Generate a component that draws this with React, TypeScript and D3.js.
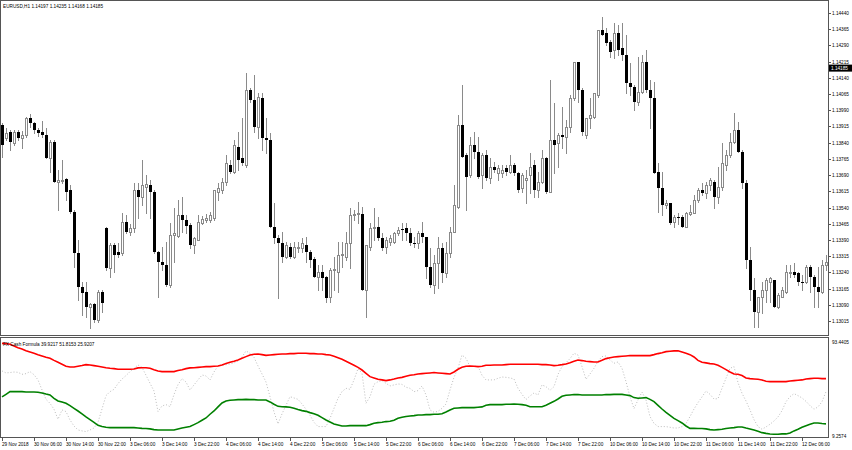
import React from 'react';
import * as d3 from 'd3';

const W = 852;
const H = 450;

// ---- candle data (price in 1e-5 units), hourly bars from 29 Nov 22:00 ----
const OPEN = [
  113922,113862,113890,113838,113890,113862,113876,113954,113931,113899,
  113890,113876,113769,113843,113658,113663,113672,113621,113519,113330,
  113172,113150,113079,113094,113019,113150,113445,113260,113367,113334,
  113330,113473,113427,113445,113621,113589,113635,113644,113611,113334,
  113288,113274,113181,113413,113408,113505,113482,113459,113367,113390,
  113468,113482,113482,113491,113611,113621,113658,113737,113704,113820,
  113769,113737,114084,114037,113912,114047,113862,113853,113450,113399,
  113376,113311,113357,113311,113353,113353,113367,113334,113302,113218,
  113241,113218,113126,113251,113241,113320,113311,113376,113505,113510,
  113510,113159,113357,113445,113450,113399,113357,113380,113380,113422,
  113440,113445,113422,113376,113376,113422,113404,113264,113181,113283,
  113353,113237,113330,113427,113542,113922,113783,113690,113829,113797,
  113690,113783,113677,113727,113700,113700,113723,113704,113737,113700,
  113630,113668,113690,113737,113621,113658,113769,113611,113853,113838,
  113876,113866,113912,114047,114213,114084,113876,113954,113958,114061,
  114361,114347,114306,114269,114347,114278,114246,114116,114098,114028,
  114075,114213,114084,114047,113704,113630,113552,113561,113473,113496,
  113496,113450,113510,113515,113575,113621,113607,113644,113658,113589,
  113635,113737,113783,113843,113899,113797,113653,113297,113159,113057,
  113126,113159,113196,113205,113079,113126,113150,113237,113241,113237,
  113196,113196,113264,113218,113172,113150,113274,
];
const HIGH = [
  113931,113908,113899,113899,113899,113894,113958,113972,113936,113908,
  113940,113908,113853,113853,113714,113760,113677,113644,113529,113390,
  113196,113196,113098,113098,113159,113159,113450,113376,113376,113376,
  113515,113505,113464,113653,113653,113760,113690,113667,113621,113339,
  113357,113380,113468,113538,113575,113589,113505,113468,113404,113505,
  113501,113510,113519,113621,113653,113677,113783,113760,113853,113890,
  113954,114162,114093,114153,114070,114070,113954,113885,113561,113413,
  113427,113380,113376,113380,113380,113399,113404,113343,113311,113274,
  113274,113223,113260,113311,113380,113380,113427,113538,113529,113566,
  113542,113367,113468,113538,113496,113422,113404,113413,113427,113450,
  113468,113468,113445,113404,113431,113473,113404,113353,113320,113404,
  113376,113380,113450,113644,113968,114107,113792,113866,113890,113866,
  113792,113806,113769,113751,113737,113737,113737,113783,113746,113704,
  113700,113714,113792,113760,113704,113806,113774,114130,114024,113885,
  114005,113945,114060,114213,114213,114093,113954,114047,114070,114361,
  114421,114371,114315,114394,114384,114394,114338,114209,114107,114236,
  114246,114269,114130,114121,113746,113704,113575,113561,113505,113515,
  113505,113519,113552,113598,113630,113653,113658,113677,113668,113727,
  113838,113806,113885,113977,113936,113806,113668,113357,113214,113126,
  113196,113214,113218,113205,113145,113172,113274,113274,113283,113241,
  113228,113274,113274,113228,113264,113297,113320,
];
const LOW = [
  113773,113853,113806,113829,113853,113815,113866,113912,113885,113871,
  113866,113769,113704,113658,113529,113653,113575,113515,113264,113113,
  113043,113033,112983,113010,113010,113057,113251,113218,113241,113311,
  113320,113422,113413,113427,113491,113552,113515,113491,113330,113126,
  113251,113177,113172,113288,113404,113427,113422,113353,113330,113390,
  113464,113473,113473,113482,113575,113607,113644,113700,113700,113714,
  113737,113727,114028,113890,113862,113806,113792,113450,113376,113122,
  113288,113306,113306,113306,113334,113334,113288,113264,113218,113159,
  113159,113103,113103,113159,113150,113264,113297,113260,113482,113468,
  113159,113033,113343,113390,113390,113343,113330,113367,113376,113413,
  113390,113390,113367,113357,113353,113380,113214,113172,113145,113168,
  113196,113218,113311,113427,113538,113773,113529,113681,113769,113677,
  113630,113668,113653,113704,113668,113681,113690,113700,113690,113611,
  113611,113561,113607,113589,113589,113653,113607,113611,113700,113727,
  113815,113792,113890,114037,114028,113876,113862,113908,113954,114051,
  114338,114292,114236,114232,114246,114222,114070,114061,113991,114014,
  114070,114075,113908,113700,113519,113505,113538,113464,113450,113464,
  113450,113450,113505,113515,113566,113598,113584,113621,113538,113561,
  113621,113714,113773,113838,113797,113630,113260,113113,112987,112987,
  113052,113103,113103,113079,113075,113126,113145,113218,113218,113181,
  113159,113191,113150,113079,113079,113145,113251,
];
const CLOSE = [
  113829,113885,113843,113890,113862,113876,113954,113931,113899,113885,
  113876,113769,113843,113658,113668,113668,113611,113519,113330,113172,
  113145,113079,113094,113019,113150,113098,113260,113367,113320,113320,
  113473,113427,113445,113621,113589,113644,113649,113611,113334,113288,
  113274,113181,113413,113422,113505,113482,113454,113367,113399,113473,
  113487,113491,113505,113621,113630,113658,113746,113704,113829,113760,
  113746,114084,114037,113912,114051,113862,113853,113450,113399,113376,
  113311,113367,113311,113357,113357,113376,113334,113297,113218,113241,
  113214,113122,113251,113255,113320,113325,113376,113505,113510,113515,
  113159,113367,113445,113450,113399,113353,113390,113399,113422,113436,
  113436,113422,113376,113371,113422,113404,113264,113181,113283,113353,
  113237,113330,113427,113552,113922,113773,113681,113829,113797,113681,
  113783,113677,113727,113714,113723,113714,113704,113737,113700,113621,
  113690,113677,113727,113621,113658,113769,113611,113853,113829,113876,
  113866,113912,114047,114213,114084,113890,113954,113968,114070,114361,
  114338,114301,114259,114347,114269,114246,114116,114098,114028,114075,
  114213,114084,114047,113700,113630,113552,113561,113468,113496,113491,
  113450,113515,113519,113575,113621,113607,113644,113668,113589,113635,
  113746,113783,113843,113899,113797,113653,113297,113159,113057,113126,
  113159,113205,113214,113079,113135,113159,113241,113241,113228,113196,
  113191,113264,113218,113172,113150,113274,113288,
];

// ---- FX Cash Formula indicator ----
const RED_LINE = [
  89.7,89.5,88.9,87.5,86.0,84.9,83.4,82.3,81.2,80.0,
  78.9,77.7,76.9,75.1,73.4,71.7,70.0,69.4,69.4,70.0,
  70.6,71.4,71.1,70.6,70.0,69.4,68.8,68.3,68.0,67.4,
  67.4,67.4,67.4,67.7,68.6,68.8,68.8,68.3,67.1,66.0,
  65.4,65.4,65.4,65.4,66.3,67.1,68.0,68.6,68.8,69.1,
  69.4,69.7,69.7,70.0,70.3,71.1,72.3,73.4,74.3,75.4,
  76.9,78.3,79.7,80.3,80.6,80.0,79.4,79.7,80.0,80.3,
  80.6,80.6,80.9,80.9,81.2,81.2,81.2,80.9,80.9,80.6,
  80.6,80.0,79.7,78.6,77.4,76.0,74.3,72.6,70.9,69.1,
  66.8,64.0,61.1,60.0,58.8,58.3,57.7,58.3,59.1,60.0,
  60.5,61.4,62.3,62.8,63.4,63.7,64.0,64.3,64.6,64.3,
  64.0,63.7,63.4,65.1,67.4,69.1,70.0,70.3,70.0,69.7,
  70.0,70.9,70.9,71.1,71.1,71.1,71.4,71.7,71.7,71.7,
  71.7,71.7,71.7,71.7,71.7,71.4,71.4,71.1,70.6,70.9,
  71.4,72.0,73.1,74.3,75.4,74.9,74.3,74.0,73.7,73.7,
  75.1,76.6,77.4,78.0,78.3,78.6,78.9,79.2,79.2,79.2,
  79.2,79.2,79.2,80.0,80.9,81.7,82.6,82.9,83.2,83.4,
  82.3,81.2,80.0,78.0,75.1,73.4,72.9,72.3,72.0,70.9,
  69.1,67.1,65.1,63.4,63.1,62.0,60.0,59.4,59.1,58.8,
  58.3,57.1,56.8,56.8,56.8,56.8,56.8,57.4,57.7,58.0,
  58.3,59.1,59.4,59.7,59.7,59.4,59.4,
];
const GREEN_LINE = [
  43.7,45.9,48.2,48.2,48.2,48.2,47.9,47.9,47.9,47.7,
  47.1,46.2,45.4,42.5,40.2,39.4,38.2,36.2,33.9,31.6,
  29.1,26.5,24.2,21.9,19.3,18.2,17.6,17.3,17.3,17.3,
  17.3,17.3,17.3,17.3,17.0,16.7,16.5,16.2,15.6,15.3,
  15.3,15.3,15.3,15.3,16.2,17.0,17.6,18.2,19.9,21.6,
  23.6,25.6,28.8,31.6,35.1,38.5,40.2,40.8,41.1,41.4,
  41.4,41.6,41.4,41.4,41.1,41.1,41.1,39.4,37.4,35.6,
  35.3,35.1,34.8,33.9,32.8,31.9,31.3,30.2,29.3,27.9,
  25.9,23.9,22.2,20.5,19.6,18.7,18.7,19.0,19.0,19.0,
  19.0,19.0,19.9,21.0,21.6,21.9,22.5,22.8,23.6,25.3,
  26.2,26.8,27.3,27.6,28.2,28.2,28.5,28.5,28.8,28.8,
  29.3,30.8,32.5,33.9,34.2,34.5,34.5,34.5,34.5,34.8,
  35.1,36.5,37.1,37.1,37.1,37.1,37.4,37.4,37.6,37.4,
  37.1,36.5,35.3,35.3,35.3,35.3,36.5,38.2,39.9,41.9,
  44.2,45.1,45.4,45.7,45.7,45.4,45.4,45.4,45.4,45.4,
  45.4,45.7,45.7,45.9,45.9,45.9,45.4,44.8,43.1,42.5,
  42.8,43.1,41.6,39.6,36.5,33.3,30.5,27.9,25.3,23.3,
  21.3,18.7,16.7,16.7,16.5,16.5,16.2,15.6,15.3,15.6,
  15.9,16.5,17.0,17.3,17.9,17.9,17.0,16.2,15.3,14.2,
  13.0,12.4,11.9,11.6,11.6,11.9,11.9,12.7,14.5,15.9,
  17.6,19.0,20.2,21.3,21.3,20.8,20.5,
];
const DOTTED_LINE = [
  66.0,64.3,64.6,65.1,64.8,63.1,63.7,65.4,62.8,58.3,
  49.7,41.6,38.2,33.1,24.5,32.5,31.1,23.9,18.7,15.3,
  14.5,13.9,15.3,17.0,21.9,33.3,44.8,48.2,50.2,55.1,
  59.1,62.0,65.4,68.3,71.1,69.1,62.3,55.4,48.8,31.1,
  35.9,37.1,35.3,45.7,54.2,59.4,56.5,49.7,54.0,58.3,
  62.5,61.7,58.3,65.1,70.3,70.9,71.4,72.0,72.9,74.6,
  78.0,83.2,81.2,77.7,70.3,63.4,56.5,43.9,30.8,20.5,
  29.1,36.5,43.9,42.8,41.6,37.6,33.1,27.9,21.9,18.2,
  18.2,18.2,25.3,33.9,42.5,48.2,51.1,50.2,58.3,68.0,
  64.0,38.2,43.9,54.5,56.8,57.7,55.4,53.1,54.0,54.8,
  54.5,52.0,51.1,48.2,49.1,53.1,45.4,32.5,30.5,31.3,
  33.9,37.6,49.7,60.5,68.3,79.7,76.9,69.7,70.0,70.0,
  62.3,58.3,58.3,58.3,59.7,60.8,60.5,60.0,59.1,51.1,
  45.9,41.4,44.5,47.1,45.4,54.0,52.5,49.4,52.5,63.1,
  69.7,73.1,76.6,81.2,79.7,69.7,58.8,63.4,68.3,74.3,
  78.3,78.9,75.4,72.6,73.7,68.3,56.8,43.9,33.6,41.1,
  47.9,41.1,26.8,21.0,18.2,18.2,18.2,17.6,17.0,17.0,
  18.2,20.8,26.8,33.3,38.8,43.7,48.8,45.9,41.9,42.2,
  51.1,59.7,68.3,69.7,56.0,46.8,40.2,32.5,24.2,18.2,
  15.9,17.9,20.2,23.0,26.5,31.9,39.6,43.9,46.5,44.8,
  42.8,39.9,36.2,33.1,35.1,39.6,48.2,
];

const PRICE_TICKS = [
  '1.14440','1.14365','1.14290','1.14215','1.14140','1.14065','1.13990',
  '1.13915','1.13840','1.13765','1.13690','1.13615','1.13540','1.13465',
  '1.13390','1.13315','1.13240','1.13165','1.13090','1.13015',
];
const TIME_LABELS = [
  '29 Nov 2018','30 Nov 06:00','30 Nov 14:00','30 Nov 22:00','3 Dec 06:00',
  '3 Dec 14:00','3 Dec 22:00','4 Dec 06:00','4 Dec 14:00','4 Dec 22:00',
  '5 Dec 06:00','5 Dec 14:00','5 Dec 22:00','6 Dec 06:00','6 Dec 14:00',
  '6 Dec 22:00','7 Dec 06:00','7 Dec 14:00','7 Dec 22:00','10 Dec 06:00',
  '10 Dec 14:00','10 Dec 22:00','11 Dec 06:00','11 Dec 14:00','11 Dec 22:00',
  '12 Dec 06:00',
];
const BARS_PER_LABEL = 8;
const HEADER = 'EURUSD,H1  1.14197 1.14235 1.14168 1.14185';
const IND_TITLE = 'FX Cash Formula 39.9217 51.8153 25.9207';
const LAST_PRICE = '1.14185';
const IND_MAX = '93.4405';
const IND_MIN = '9.2574';

const FONT = "'Liberation Sans', Arial, sans-serif";
const FS = 4.7;

export default function App() {
  const n = OPEN.length;
  const plotRight = 828;
  const x = d3.scaleLinear().domain([0, n - 1]).range([2, 2 + 4 * (n - 1)]);
  const y = d3
    .scaleLinear()
    .domain([+PRICE_TICKS[PRICE_TICKS.length - 1], +PRICE_TICKS[0]])
    .range([321, 13]);
  const yi = d3.scaleLinear().domain([+IND_MIN, +IND_MAX]).range([437, 339]);
  const p = (v: number) => y(v / 1e5);

  const line = d3
    .line<number>()
    .x((_, i) => x(i))
    .y((d) => yi(d))
    .curve(d3.curveLinear);

  const wickCol = '#8a8a8a';

  return (
    <div style={{ position: 'absolute', left: 0, top: 0, width: W, height: H }}>
      <svg width={W} height={H} style={{ display: 'block', background: '#fff' }}>
        <defs>
          <clipPath id="mainClip">
            <rect x={1} y={1} width={plotRight - 1} height={334} />
          </clipPath>
          <clipPath id="indClip">
            <rect x={1} y={338} width={plotRight - 1} height={99} />
          </clipPath>
        </defs>
        <rect x={0} y={0} width={W} height={H} fill="#fff" />

        {/* candles */}
        <g clipPath="url(#mainClip)" shapeRendering="crispEdges">
          {OPEN.map((o, i) => {
            const c = CLOSE[i];
            const px = Math.round(x(i));
            const top = Math.round(p(Math.max(o, c)));
            const bot = Math.round(p(Math.min(o, c)));
            const bull = c >= o;
            return (
              <g key={i}>
                <line
                  x1={px + 0.5}
                  x2={px + 0.5}
                  y1={Math.round(p(HIGH[i]))}
                  y2={Math.round(p(LOW[i])) + 1}
                  stroke={wickCol}
                  strokeWidth={1}
                />
                {bull ? (
                  <rect
                    x={px - 0.5}
                    y={top + 0.5}
                    width={2}
                    height={Math.max(0, bot - top)}
                    fill="#fff"
                    stroke={wickCol}
                    strokeWidth={1}
                  />
                ) : (
                  <rect x={px - 1} y={top} width={3} height={Math.max(1, bot - top)} fill="#000" />
                )}
              </g>
            );
          })}
        </g>

        {/* frames */}
        <g fill="none" stroke="#555" strokeWidth={1} shapeRendering="crispEdges">
          <rect x={0.5} y={0.5} width={plotRight} height={335} />
          <rect x={0.5} y={337.5} width={plotRight} height={100} />
        </g>

        {/* header */}
        <text x={3} y={8} fontFamily={FONT} fontSize={FS} fill="#000">
          {HEADER}
        </text>

        {/* price axis */}
        <g fontFamily={FONT} fontSize={FS} fill="#000">
          {PRICE_TICKS.map((t) => {
            const yy = Math.round(y(+t));
            return (
              <g key={t}>
                <line x1={plotRight} x2={plotRight + 3} y1={yy + 0.5} y2={yy + 0.5} stroke="#555" shapeRendering="crispEdges" />
                <text x={832} y={yy + 1.7}>
                  {t}
                </text>
              </g>
            );
          })}
          <rect x={829} y={y(+LAST_PRICE) - 3.5} width={23} height={7} fill="#000" />
          <text x={831} y={y(+LAST_PRICE) + 1.7} fill="#fff">
            {LAST_PRICE}
          </text>
        </g>

        {/* indicator */}
        <g clipPath="url(#indClip)">
          <path d={line(DOTTED_LINE) || ''} fill="none" stroke="#bdbdbd" strokeWidth={1} strokeDasharray="1,2" />
          <path d={line(RED_LINE) || ''} fill="none" stroke="#ff0000" strokeWidth={1.6} />
          <path d={line(GREEN_LINE) || ''} fill="none" stroke="#008000" strokeWidth={1.6} />
        </g>
        <text x={3} y={345.5} fontFamily={FONT} fontSize={FS} fill="#000">
          {IND_TITLE}
        </text>
        <g fontFamily={FONT} fontSize={FS} fill="#000">
          <text x={832} y={343.5}>{IND_MAX}</text>
          <text x={832} y={437.5}>{IND_MIN}</text>
        </g>

        {/* time axis */}
        <g fontFamily={FONT} fontSize={FS} fill="#000">
          {TIME_LABELS.map((t, k) => {
            const xx = Math.round(x(k * BARS_PER_LABEL));
            return (
              <g key={t}>
                <line x1={xx + 0.5} x2={xx + 0.5} y1={438} y2={441} stroke="#555" shapeRendering="crispEdges" />
                <text x={xx} y={446}>
                  {t}
                </text>
              </g>
            );
          })}
        </g>
      </svg>
    </div>
  );
}
